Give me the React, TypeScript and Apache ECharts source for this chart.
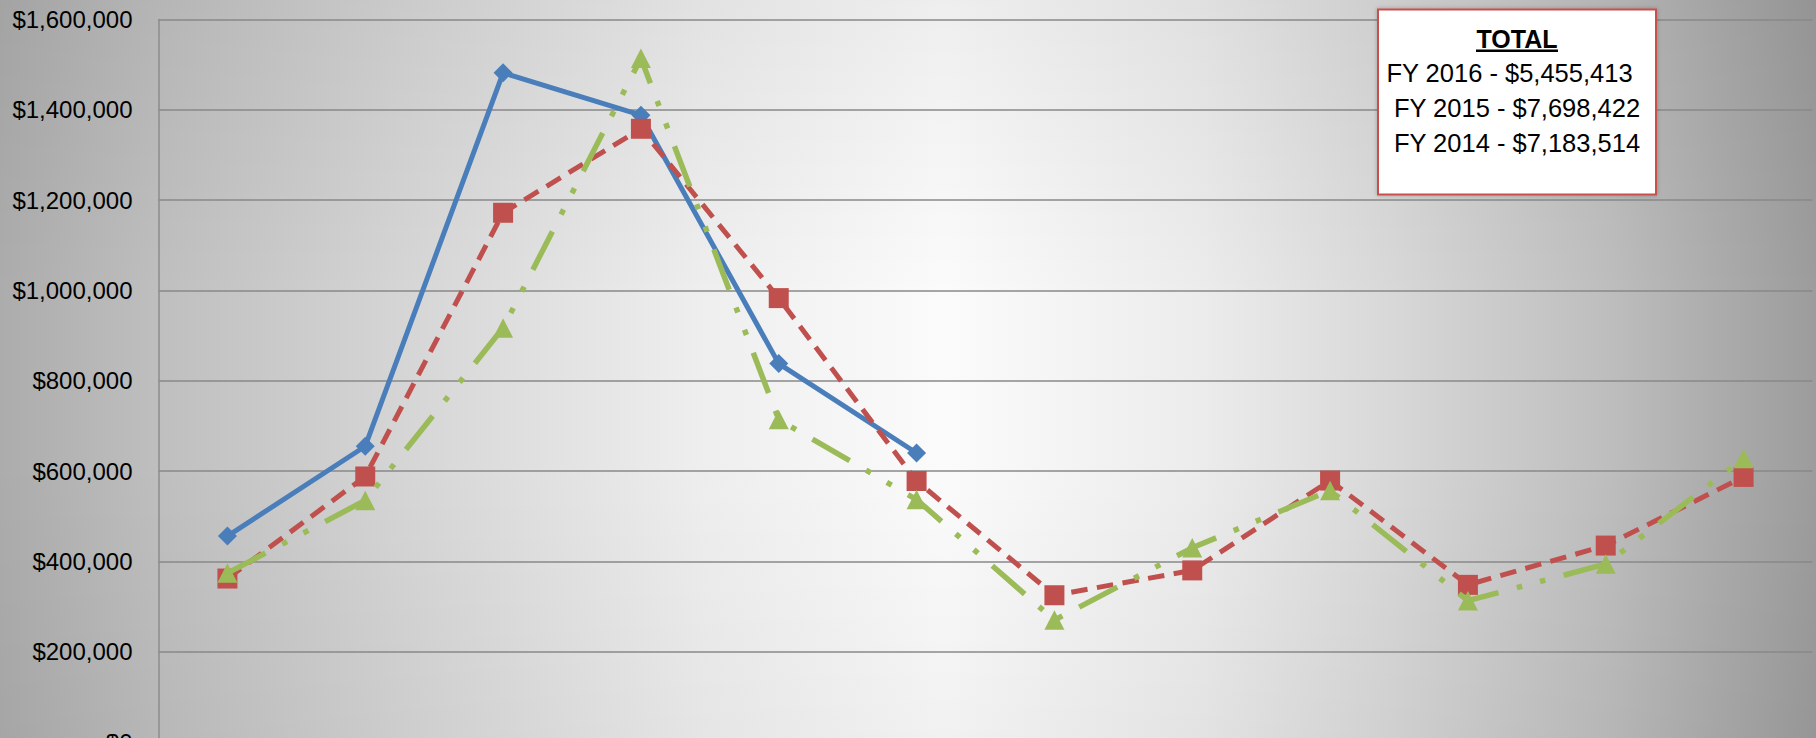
import React, { useEffect, useRef } from "react";
import * as echarts from "echarts";

const months = ["Jul", "Aug", "Sep", "Oct", "Nov", "Dec", "Jan", "Feb", "Mar", "Apr", "May", "Jun"];
const fy2016 = [456000, 655000, 1482000, 1388000, 838000, 640000];
const fy2015 = [362000, 588000, 1172000, 1358000, 983000, 578000, 325000, 380000, 579000, 348000, 435000, 587000];
const fy2014 = [374000, 535000, 917000, 1514000, 714000, 537000, 270000, 430000, 557000, 313000, 394000, 628000];
const yMin = 0;
const yMax = 1600000;
const yStep = 200000;
const totalTitle = "TOTAL";
const totalLines = ["FY 2016 - $5,455,413", "FY 2015 - $7,698,422", "FY 2014 - $7,183,514"];

const FONT = "'Liberation Sans', Arial, sans-serif";

export default function App() {
  const ref = useRef<HTMLDivElement>(null);

  useEffect(() => {
    if (!ref.current) return;
    const chart = echarts.init(ref.current, undefined, { renderer: "svg" });
    const option: any = {
      animation: false,
      backgroundColor: "transparent",
      grid: {
        left: 158.5,
        top: 19.5,
        width: 1654,
        height: 722.5,
        containLabel: false,
        outerBoundsMode: "none",
      },
      xAxis: {
        type: "category",
        data: months,
        boundaryGap: true,
        axisLine: { show: true, lineStyle: { color: "#8a8a8a", width: 1.5 } },
        axisTick: { show: false },
        axisLabel: { show: false },
        splitLine: { show: false },
      },
      yAxis: {
        type: "value",
        min: yMin,
        max: yMax,
        interval: yStep,
        axisLine: { show: true, lineStyle: { color: "#8c8c8c", width: 1.5 } },
        axisTick: { show: false },
        axisLabel: {
          margin: 26,
          color: "#000",
          fontFamily: FONT,
          fontSize: 24,
          formatter: (v: number) => "$" + v.toLocaleString("en-US"),
        },
        splitLine: { show: true, lineStyle: { color: "#898989", width: 1.5 } },
      },
      series: [
        {
          name: "FY 2016",
          type: "line",
          data: fy2016,
          symbol: "diamond",
          symbolSize: 19,
          itemStyle: { color: "#4a7ebb", borderWidth: 0 },
          lineStyle: { color: "#4a7ebb", width: 5, type: "solid", join: "round" },
          z: 2,
        },
        {
          name: "FY 2015",
          type: "line",
          data: fy2015,
          symbol: "rect",
          symbolSize: 20,
          itemStyle: { color: "#c0504d", borderWidth: 0 },
          lineStyle: { color: "#c0504d", width: 5, type: [16.5, 9.5], cap: "butt" },
          z: 3,
        },
        {
          name: "FY 2014",
          type: "line",
          data: fy2014,
          symbol: "triangle",
          symbolSize: [20, 19.5],
          itemStyle: { color: "#9bbb59", borderWidth: 0 },
          lineStyle: { color: "#9bbb59", width: 5.5, type: [43, 19, 5.5, 18.5, 5.5, 19], cap: "butt" },
          z: 4,
        },
      ],
      graphic: [
        {
          type: "rect",
          z: 10,
          shape: { x: 1378, y: 9.5, width: 278, height: 185 },
          style: {
            fill: "#ffffff",
            stroke: "#c9504d",
            lineWidth: 2,
            shadowBlur: 4,
            shadowColor: "rgba(0,0,0,0.25)",
          },
        },
        {
          type: "text",
          z: 11,
          x: 1517,
          y: 38.5,
          style: {
            text: totalTitle,
            fill: "#000",
            font: `bold 25px ${FONT}`,
            textAlign: "center",
            textVerticalAlign: "middle",
          },
        },
        {
          type: "line",
          z: 11,
          shape: { x1: 1476, y1: 50.7, x2: 1558, y2: 50.7 },
          style: { stroke: "#000", lineWidth: 2.5 },
        },
        {
          type: "text",
          z: 11,
          x: 1509.5,
          y: 72.8,
          style: {
            text: totalLines[0],
            fill: "#000",
            font: `25.5px ${FONT}`,
            textAlign: "center",
            textVerticalAlign: "middle",
          },
        },
        {
          type: "text",
          z: 11,
          x: 1517,
          y: 108,
          style: {
            text: totalLines[1],
            fill: "#000",
            font: `25.5px ${FONT}`,
            textAlign: "center",
            textVerticalAlign: "middle",
          },
        },
        {
          type: "text",
          z: 11,
          x: 1517,
          y: 142.5,
          style: {
            text: totalLines[2],
            fill: "#000",
            font: `25.5px ${FONT}`,
            textAlign: "center",
            textVerticalAlign: "middle",
          },
        },
      ],
    };
    chart.setOption(option);
    return () => chart.dispose();
  }, []);

  return (
    <div
      ref={ref}
      style={{
        position: "fixed",
        left: 0,
        top: 0,
        width: 1816,
        height: 738,
        overflow: "hidden",
        background:
          "linear-gradient(to bottom, rgba(0,0,0,0.05) 0%, rgba(0,0,0,0) 40%, rgba(0,0,0,0) 62%, rgba(0,0,0,0.04) 100%), linear-gradient(to right, #acacac 0%, #bfbfbf 8.8%, #d5d5d5 22%, #eeeeee 38.5%, #fbfbfb 52%, #ececec 66%, #d8d8d8 76.6%, #bdbdbd 88.8%, #9c9c9c 100%)",
      }}
    />
  );
}
